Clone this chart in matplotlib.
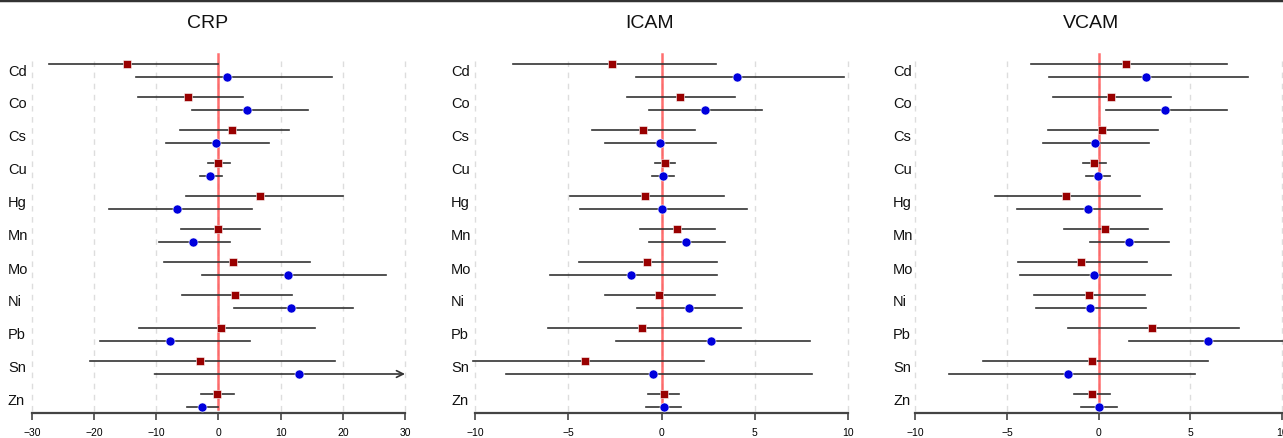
import matplotlib
matplotlib.use("Agg")
import matplotlib.pyplot as plt
import numpy as np

plt.rcParams['font.family'] = ['Liberation Sans', 'DejaVu Sans']

metals = ["Cd", "Co", "Cs", "Cu", "Hg", "Mn", "Mo", "Ni", "Pb", "Sn", "Zn"]
titles = ["CRP", "ICAM", "VCAM"]

# CRP
crp_red_est = [-14.7, -4.9, 2.1, 0.0, 6.7, 0.0, 2.4, 2.6, 0.4, -2.9, -0.2]
crp_red_lo = [-27.2, -13.0, -6.2, -1.7, -5.2, -6.1, -8.7, -5.9, -12.8, -20.6, -2.8]
crp_red_hi = [0.0, 4.0, 11.3, 1.8, 20.1, 6.7, 14.8, 11.9, 15.5, 18.7, 2.5]
crp_blue_est = [1.3, 4.6, -0.45, -1.3, -6.7, -4.15, 11.2, 11.7, -7.8, 13.0, -2.6]
crp_blue_lo = [-13.2, -4.2, -8.4, -3.0, -17.6, -9.6, -2.7, 2.5, -19.1, -10.3, -5.1]
crp_blue_hi = [18.2, 14.4, 8.1, 0.5, 5.4, 1.8, 27.0, 21.7, 5.1, 36.0, 0.0]

# ICAM
icam_red_est = [-2.67, 1.01, -1.01, 0.19, -0.87, 0.83, -0.79, -0.13, -1.03, -4.08, 0.12]
icam_red_lo = [-7.96, -1.87, -3.71, -0.35, -4.89, -1.17, -4.41, -3.05, -6.07, -10.1, -0.72]
icam_red_hi = [2.94, 3.94, 1.78, 0.71, 3.33, 2.87, 2.96, 2.85, 4.28, 2.3, 0.94]
icam_blue_est = [4.07, 2.31, -0.1, 0.08, 0.0, 1.33, -1.62, 1.47, 2.64, -0.47, 0.15]
icam_blue_lo = [-1.37, -0.67, -3.05, -0.53, -4.37, -0.67, -5.96, -1.3, -2.42, -8.35, -0.81]
icam_blue_hi = [9.79, 5.41, 2.94, 0.67, 4.57, 3.39, 2.96, 4.33, 7.98, 8.09, 1.06]

# VCAM
vcam_red_est = [1.51, 0.67, 0.2, -0.24, -1.8, 0.36, -0.97, -0.55, 2.89, -0.38, -0.38]
vcam_red_lo = [-3.71, -2.48, -2.77, -0.87, -5.67, -1.91, -4.4, -3.51, -1.67, -6.33, -1.33]
vcam_red_hi = [7.0, 3.94, 3.24, 0.4, 2.25, 2.71, 2.65, 2.51, 7.65, 5.95, 0.6]
vcam_blue_est = [2.58, 3.64, -0.2, -0.06, -0.58, 1.65, -0.24, -0.47, 5.96, -1.69, 0.02]
vcam_blue_lo = [-2.69, 0.42, -3.02, -0.71, -4.47, -0.49, -4.28, -3.4, 1.65, -8.18, -0.95]
vcam_blue_hi = [8.16, 7.0, 2.73, 0.62, 3.45, 3.85, 3.96, 2.56, 10.7, 5.25, 0.98]

ranges = [(-30, 30), (-10, 10), (-10, 10)]
tick_steps = [10, 5, 5]

panels = [
    (crp_red_est, crp_red_lo, crp_red_hi, crp_blue_est, crp_blue_lo, crp_blue_hi),
    (icam_red_est, icam_red_lo, icam_red_hi, icam_blue_est, icam_blue_lo, icam_blue_hi),
    (vcam_red_est, vcam_red_lo, vcam_red_hi, vcam_blue_est, vcam_blue_lo, vcam_blue_hi),
]

W, H = 1283, 439
fig = plt.figure(figsize=(W / 100, H / 100), dpi=100)

ax_px = [(17.1, 419.9), (460.1, 862.9), (900.7, 1296.7)]
label_x = [8, 451, 893]
title_x = [207.5, 650, 1091]
top_px, bot_px = 50, 414
row0 = 71.5
row_step = 33.0
ylo = (bot_px - row0) / row_step
yhi = (top_px - row0) / row_step
off = 6.5 / row_step

for k, (rng, step, data) in enumerate(zip(ranges, tick_steps, panels)):
    l, r = ax_px[k]
    ax = fig.add_axes([l / W, (H - bot_px) / H, (r - l) / W, (bot_px - top_px) / H])
    ax.patch.set_alpha(0)
    ext = (rng[1] - rng[0]) * 0.04
    ax.set_xlim(rng[0] - ext, rng[1] + ext)
    ax.set_ylim(ylo, yhi)
    for s in ["top", "right", "left"]:
        ax.spines[s].set_visible(False)
    ax.spines["bottom"].set_bounds(rng[0], rng[1])
    ax.spines["bottom"].set_color("#444444")
    ax.spines["bottom"].set_linewidth(1.6)
    ticks = np.arange(rng[0], rng[1] + 0.1, step)
    ax.set_xticks(ticks)
    ax.set_xticklabels([("\u2212" + str(int(abs(t)))) if t < 0 else str(int(t)) for t in ticks],
                       fontsize=7.5)
    ax.tick_params(axis="x", length=5, width=1.2, color="#444444", pad=5)
    ax.set_yticks([])
    g_top = (57 - row0) / row_step
    g_bot = (412 - row0) / row_step
    for t in ticks:
        ax.plot([t, t], [g_bot, g_top], color="#dddddd", lw=1, ls=(0, (4, 4)), zorder=0)
    ax.plot([0, 0], [(410 - row0) / row_step, (55 - row0) / row_step],
            color="#ff5555", lw=1.8, alpha=0.85, zorder=1)

    r_est, r_lo, r_hi, b_est, b_lo, b_hi = data
    rows = np.arange(len(metals))
    for i in rows:
        for est, lo, hi, dy, mk, col, ms in [
            (r_est[i], r_lo[i], r_hi[i], -off, "s", "#990000", 6.0),
            (b_est[i], b_lo[i], b_hi[i], off, "o", "#0000dd", 6.5),
        ]:
            y = i + dy
            lo_c = max(lo, rng[0] - ext)
            if hi > rng[1] + ext:
                ax.annotate("", xy=(rng[1], y), xytext=(lo_c, y),
                            arrowprops=dict(arrowstyle="->", color="#333333", lw=1.2,
                                            mutation_scale=12, shrinkA=0, shrinkB=0),
                            zorder=2)
            else:
                ax.plot([lo_c, hi], [y, y], color="#333333", lw=1.2, zorder=2,
                        clip_on=False)
            ax.plot([est], [y], marker=mk, color=col, ms=ms, mec="white", mew=0.4,
                    ls="none", zorder=3)
        fig.text(label_x[k] / W, 1 - (row0 + row_step * i) / H, metals[i],
                 fontsize=10.5, ha="left", va="center", color="#111111")
    fig.text(title_x[k] / W, 1 - 23 / H, titles[k], fontsize=14, ha="center",
             va="center", color="#111111")

fig.add_artist(plt.Line2D([0, 1], [1 - 1 / H, 1 - 1 / H], transform=fig.transFigure,
                          color="#333333", lw=2.5))

fig.savefig("out.png", dpi=100)
